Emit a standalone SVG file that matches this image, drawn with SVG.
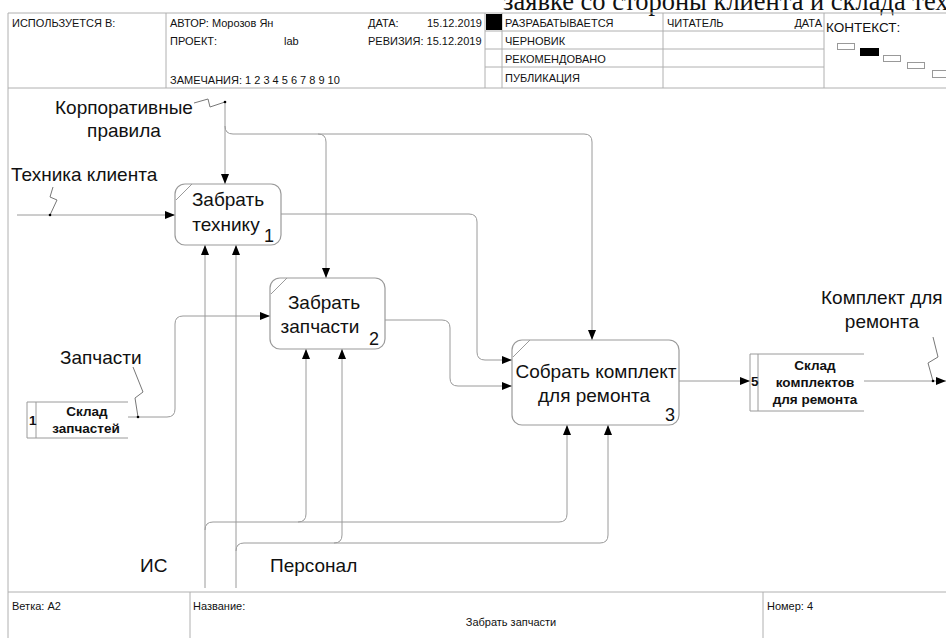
<svg xmlns="http://www.w3.org/2000/svg" width="946" height="638" viewBox="0 0 946 638">
<defs>
<style>
.frame{stroke:#b0b0b0;stroke-width:1;fill:none}
.hdr{font-family:"Liberation Sans",Arial,sans-serif;font-size:11px;fill:#111}
.box{fill:#fff;stroke:#9a9a9a;stroke-width:1.2}
.btxt{font-family:"Liberation Sans",Arial,sans-serif;font-size:19px;fill:#111;text-anchor:middle}
.num{font-family:"Liberation Sans",Arial,sans-serif;font-size:18px;fill:#111}
.lbl{font-family:"Liberation Sans",Arial,sans-serif;font-size:19px;fill:#111}
.st{font-family:"Liberation Sans",Arial,sans-serif;font-size:13.5px;font-weight:bold;fill:#111}
.c{stroke:#9a9a9a;stroke-width:1;fill:none}
.arr{stroke:#9a9a9a;stroke-width:1;fill:none;marker-end:url(#ah)}
.sq{stroke:#777;stroke-width:1;fill:none}
</style>
<marker id="ah" viewBox="0 0 10 8" refX="10" refY="4" markerWidth="10" markerHeight="8" markerUnits="userSpaceOnUse" orient="auto">
<path d="M0,0 L10,4 L0,8 z" fill="#000"/>
</marker>
</defs>
<rect width="946" height="638" fill="#fff"/>

<text x="503" y="10" font-family="'Liberation Serif','Times New Roman',serif" font-size="26.5" fill="#111">заявке со стороны клиента и склада тех</text>

<g id="header">
<path class="frame" d="M8,13 H946 M8,13 V638 M8,88 H946 M166,13 V88 M485,13 V88 M502,13 V88 M663,13 V88 M824,13 V88 M485,31 H824 M485,49 H824 M485,67 H824"/>
<rect x="486" y="14" width="16" height="16" fill="#000"/>
<text class="hdr" x="12" y="27">ИСПОЛЬЗУЕТСЯ В:</text>
<text class="hdr" x="170" y="27">АВТОР: Морозов Ян</text>
<text class="hdr" x="170" y="45">ПРОЕКТ:</text>
<text class="hdr" x="284" y="45">lab</text>
<text class="hdr" x="170" y="84">ЗАМЕЧАНИЯ: 1 2 3 4 5 6 7 8 9 10</text>
<text class="hdr" x="368" y="27">ДАТА:</text>
<text class="hdr" x="482" y="27" text-anchor="end">15.12.2019</text>
<text class="hdr" x="368" y="45">РЕВИЗИЯ: 15.12.2019</text>
<text class="hdr" x="505" y="27">РАЗРАБАТЫВАЕТСЯ</text>
<text class="hdr" x="505" y="45">ЧЕРНОВИК</text>
<text class="hdr" x="505" y="63">РЕКОМЕНДОВАНО</text>
<text class="hdr" x="505" y="82">ПУБЛИКАЦИЯ</text>
<text class="hdr" x="667" y="27">ЧИТАТЕЛЬ</text>
<text class="hdr" x="822" y="27" text-anchor="end">ДАТА</text>
<text x="826" y="32" font-family="'Liberation Sans',Arial,sans-serif" font-size="13.5" fill="#111">КОНТЕКСТ:</text>
<g stroke="#999" stroke-width="1" fill="none">
<rect x="837.5" y="43.5" width="17" height="6"/>
<rect x="883.5" y="55.5" width="17" height="6"/>
<rect x="907.5" y="62.5" width="17" height="6"/>
<rect x="932.5" y="70.5" width="17" height="7"/>
</g>
<rect x="860" y="48" width="19" height="8" fill="#000"/>
</g>

<g id="footer">
<path class="frame" d="M8,592 H946 M190,592 V638 M763,592 V638"/>
<text class="hdr" x="12" y="610" font-size="10.5">Ветка: A2</text>
<text class="hdr" x="193" y="610" font-size="10.5">Название:</text>
<text class="hdr" x="511" y="626" font-size="10.5" text-anchor="middle">Забрать запчасти</text>
<text class="hdr" x="767" y="610" font-size="10.5">Номер: 4</text>
</g>

<g id="connectors">
<path class="arr" d="M225,101 V184"/>
<path class="arr" d="M225,126 Q225,134 233,134 H584 Q592,134 592,142 V340"/>
<path class="arr" d="M318,134 Q326,134 326,142 V278"/>
<path class="arr" d="M17,215 H175"/>
<path class="arr" d="M281,214 H469 Q477,214 477,222 V352 Q477,360 485,360 H512"/>
<path class="arr" d="M385,320 H442 Q450,320 450,328 V378 Q450,386 458,386 H512"/>
<path class="arr" d="M128,417 H167 Q175,417 175,409 V324 Q175,316 183,316 H270"/>
<path class="arr" d="M679,381 H750"/>
<path class="arr" d="M864,381 H946"/>
<path class="arr" d="M205,588 V245"/>
<path class="arr" d="M205,530 Q205,522 213,522 H559 Q567,522 567,514 V425"/>
<path class="arr" d="M298,522 Q306,522 306,514 V349"/>
<path class="arr" d="M236,588 V245"/>
<path class="arr" d="M236,551 Q236,543 244,543 H600 Q608,543 608,535 V425"/>
<path class="arr" d="M334,543 Q342,543 342,535 V349"/>
<path class="sq" d="M194,103 L208,99 L210,107 L225,102"/>
<path class="sq" d="M53,187 L50,197 L57,200 L50,215"/>
<path class="sq" d="M133,367 L143,392 L135,398 L138,417"/>
<path class="sq" d="M933,337 L938,357 L928,363 L933,381"/>
<g fill="#000">
<circle cx="225" cy="102" r="1.3"/>
<circle cx="50" cy="215" r="1.3"/>
<circle cx="138" cy="417" r="1.3"/>
<circle cx="933" cy="381" r="1.3"/>
</g>
</g>

<g id="labels">
<text class="lbl" x="55" y="114">Корпоративные</text>
<text class="lbl" x="124" y="137" text-anchor="middle">правила</text>
<text class="lbl" x="11" y="181">Техника клиента</text>
<text class="lbl" x="60" y="364">Запчасти</text>
<text class="lbl" x="821" y="304">Комплект для</text>
<text class="lbl" x="882" y="328" text-anchor="middle">ремонта</text>
<text class="lbl" x="140" y="572">ИС</text>
<text class="lbl" x="270" y="572">Персонал</text>
</g>

<g id="box1">
<rect class="box" x="175" y="184" width="106" height="61" rx="10"/>
<path class="c" d="M176,200 L192,184"/>
<text class="btxt" x="228" y="206">Забрать</text>
<text class="btxt" x="226" y="231">технику</text>
<text class="num" x="264" y="242">1</text>
</g>

<g id="box2">
<rect class="box" x="270" y="278" width="115" height="71" rx="10"/>
<path class="c" d="M271,294 L287,278"/>
<text class="btxt" x="324" y="309">Забрать</text>
<text class="btxt" x="320" y="333">запчасти</text>
<text class="num" x="369" y="345">2</text>
</g>

<g id="box3">
<rect class="box" x="512" y="340" width="167" height="85" rx="10"/>
<path class="c" d="M513,357 L530,340"/>
<text class="btxt" x="596" y="378">Собрать комплект</text>
<text class="btxt" x="594" y="402">для ремонта</text>
<text class="num" x="665" y="421">3</text>
</g>

<g id="store1">
<path class="c" d="M128,402 H27 V438 H128 M36,402 V438"/>
<text class="st" x="29" y="425" font-size="12">1</text>
<text class="st" x="87" y="416" text-anchor="middle">Склад</text>
<text class="st" x="86" y="433" text-anchor="middle">запчастей</text>
</g>

<g id="store5">
<path class="c" d="M864,354 H750 V411 H864 M758,354 V411"/>
<text class="st" x="751" y="386" font-size="12">5</text>
<text class="st" x="815" y="370" text-anchor="middle">Склад</text>
<text class="st" x="815" y="387" text-anchor="middle">комплектов</text>
<text class="st" x="815" y="404" text-anchor="middle">для ремонта</text>
</g>
</svg>
